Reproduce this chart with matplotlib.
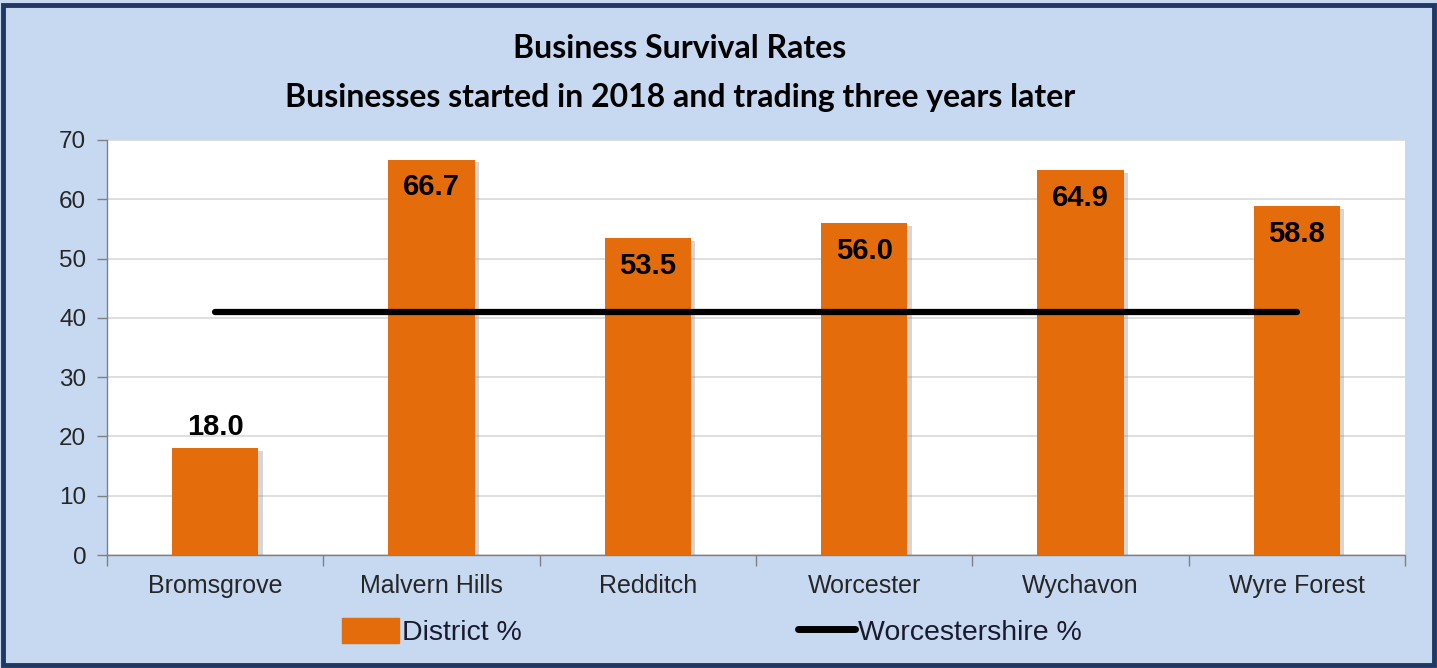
import matplotlib
matplotlib.use("Agg")
import matplotlib.pyplot as plt
from matplotlib.patches import Rectangle
from matplotlib import patheffects as pe
import numpy as np

categories = ["Bromsgrove", "Malvern Hills", "Redditch", "Worcester", "Wychavon", "Wyre Forest"]
district = [18.0, 66.7, 53.5, 56.0, 64.9, 58.8]
county = [41.0, 41.0, 41.0, 41.0, 41.0, 41.0]
yticks = [0, 10, 20, 30, 40, 50, 60, 70]
title_lines = ["Business Survival Rates", "Businesses started in 2018 and trading three years later"]

BG = "#C6D9F1"
NAVY = "#1F3864"
ORANGE = "#E46C0A"
W, H = 1437, 668

plt.rcParams["font.family"] = ["Liberation Sans", "DejaVu Sans"]

fig = plt.figure(figsize=(W / 100, H / 100), dpi=100, facecolor=BG)
fig.patches.append(Rectangle((3 / W, 3 / H), 1 - 6 / W, 1 - 8 / H, transform=fig.transFigure,
                             fill=False, edgecolor=NAVY, linewidth=3.5, zorder=10))

ax = fig.add_axes([107 / W, (H - 555) / H, (1405 - 107) / W, (555 - 140) / H])
ax.set_facecolor("white")
x = np.arange(len(categories))
bars = ax.bar(x, district, width=0.4, color=ORANGE, zorder=3)
for b in bars:
    b.set_path_effects([pe.SimplePatchShadow(offset=(3, -2), shadow_rgbFace="#8c8c8c", alpha=0.35), pe.Normal()])
ax.plot(x, county, color="black", linewidth=4.5, solid_capstyle="round", zorder=4)

ax.set_xlim(-0.5, len(categories) - 0.5)
ax.set_ylim(0, 70)
ax.set_yticks(yticks)
ax.set_yticklabels([str(v) for v in yticks], fontsize=17.5, color="#262626")
ax.yaxis.grid(True, color="#D9D9D9", linewidth=1.2, zorder=0)
ax.set_axisbelow(True)

ax.set_xticks(x)
ax.set_xticklabels(categories, fontsize=18, color="#262626")
ax.tick_params(axis="x", length=0, pad=14)
ax.set_xticks(np.arange(-0.5, len(categories), 1.0), minor=True)
ax.tick_params(axis="x", which="minor", length=8, color="#808080", width=1)
ax.tick_params(axis="y", length=7, color="#808080", width=1, pad=8)

for s in ["top", "right"]:
    ax.spines[s].set_visible(False)
for s in ["left", "bottom"]:
    ax.spines[s].set_color("#808080")
    ax.spines[s].set_linewidth(1)

for xi, v in zip(x, district):
    if v < 30:
        ax.annotate(f"{v:.1f}", (xi, v), xytext=(0, 5), textcoords="offset points",
                    ha="center", va="bottom", fontsize=21, fontweight="bold", color="black", zorder=5)
    else:
        ax.annotate(f"{v:.1f}", (xi, v), xytext=(0, -10), textcoords="offset points",
                    ha="center", va="top", fontsize=21, fontweight="bold", color="black", zorder=5)

fig.text(680 / W, 1 - 48 / H, title_lines[0], ha="center", va="center", fontsize=23,
         fontweight="bold", family=["Lato", "DejaVu Sans"], color="black")
fig.text(680 / W, 1 - 97 / H, title_lines[1], ha="center", va="center", fontsize=23,
         fontweight="bold", family=["Lato", "DejaVu Sans"], color="black")

handles = [Rectangle((0, 0), 1, 1, color=ORANGE),
           plt.Line2D([0], [0], color="black", linewidth=5, solid_capstyle="round")]
leg = fig.legend(handles, ["District %", "Worcestershire %"], loc="center",
                 bbox_to_anchor=(712 / W, 1 - 632 / H), ncol=2, frameon=False,
                 fontsize=20.5, handlelength=2.0, handletextpad=0.12, columnspacing=9.7,
                 handleheight=0.95)
for t in leg.get_texts():
    t.set_color("#1a1a2e")

fig.savefig("out.png", dpi=100, facecolor=BG)
